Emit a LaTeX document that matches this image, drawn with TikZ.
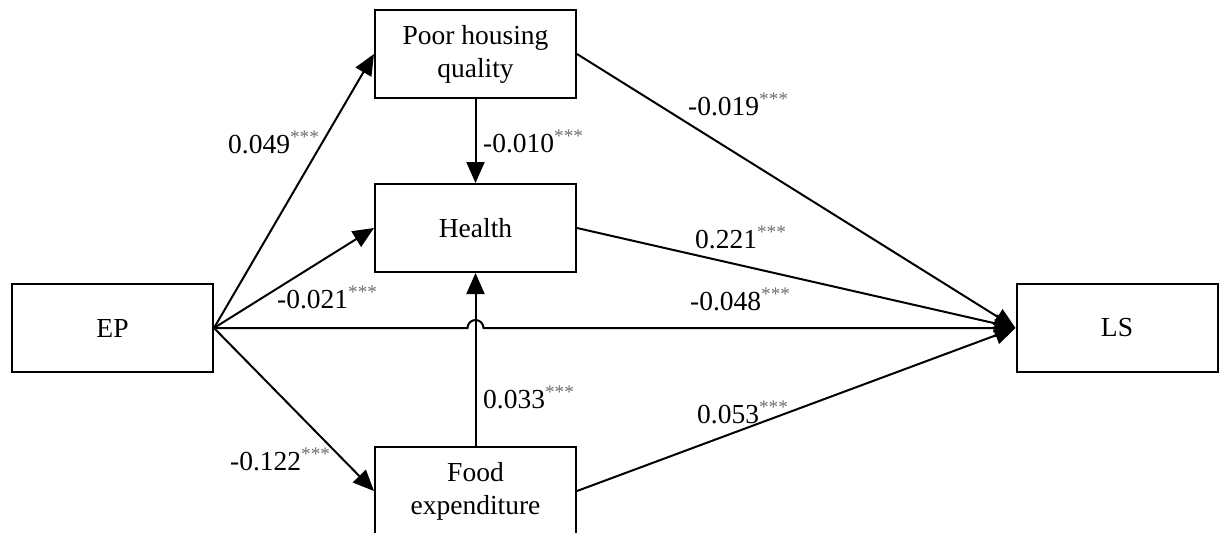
\documentclass[tikz,border=0pt]{standalone}
\usepackage{fontspec}
\setmainfont{Liberation Serif}
\usepackage{tikz}
\usetikzlibrary{arrows.meta}
\definecolor{stargray}{RGB}{110,110,110}
\newcommand{\sig}{\textsuperscript{\textcolor{stargray}{***}}}

\begin{document}
\begin{tikzpicture}[x=1pt,y=-1pt,
  box/.style={rectangle,draw,line width=2pt,minimum width=201pt,minimum height=88pt,inner sep=0pt,align=center,font=\fontsize{27.5}{33}\selectfont},
  coef/.style={anchor=base west,inner sep=0pt,font=\fontsize{27.5}{33}\selectfont},
  link/.style={line width=2pt,-{Triangle[length=21pt,width=18pt]}}]
\clip (0,0) rectangle (1219,533);
\node (ep)      at (112.5,328) [box] {EP};
\node (housing) at (475.5,54)  [box] {Poor housing\\quality};
\node (health)  at (475.5,228) [box] {Health};
\node (food)    at (475.5,491) [box] {Food\\expenditure};
\node (ls)      at (1117,328)  [box] {LS};
\coordinate (hop) at (475.5,328);
\node (c1) at (228,153) [coef] {0.049\sig};
\node (c2) at (483,152) [coef] {-0.010\sig};
\node (c3) at (688,115) [coef] {-0.019\sig};
\node (c4) at (695,248) [coef] {0.221\sig};
\node (c5) at (277,308) [coef] {-0.021\sig};
\node (c6) at (690,310) [coef] {-0.048\sig};
\node (c7) at (483,408) [coef] {0.033\sig};
\node (c8) at (697,423) [coef] {0.053\sig};
\node (c9) at (230,470) [coef] {-0.122\sig};
\draw [link] (ep.east) -- (housing.west);
\draw [link] (ep.east) -- (health.west);
\draw [link] (ep.east) -- (food.west);
\draw [link] (housing) -- (health);
\draw [link] (food) -- (health);
\draw [link] (housing.east) -- (ls.west);
\draw [link] (health.east) -- (ls.west);
\draw [link] (food.east) -- (ls.west);
\draw [link] (ep.east) -- ([xshift=-8pt]hop) arc [start angle=180,end angle=0,radius=8pt] -- (ls.west);
\end{tikzpicture}
\end{document}
